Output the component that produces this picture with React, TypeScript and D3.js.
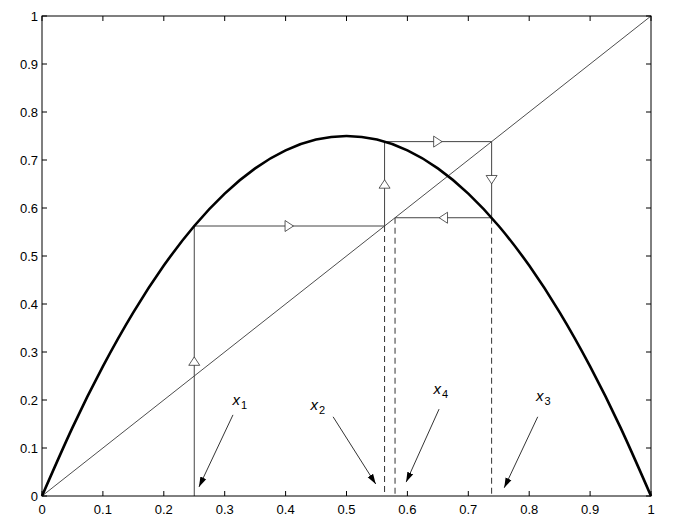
import React from "react";
import * as d3 from "d3";

const W = 681, H = 529;
const M = { left: 42, right: 30, top: 16, bottom: 33 };

const ticks = [0, 0.1, 0.2, 0.3, 0.4, 0.5, 0.6, 0.7, 0.8, 0.9, 1];
const tickLabels = ["0", "0.1", "0.2", "0.3", "0.4", "0.5", "0.6", "0.7", "0.8", "0.9", "1"];

// logistic-map curve
const curveX = [0, 0.05, 0.1, 0.15, 0.2, 0.25, 0.3, 0.35, 0.4, 0.45, 0.5, 0.55, 0.6, 0.65, 0.7, 0.75, 0.8, 0.85, 0.9, 0.95, 1];
const curveY = [0, 0.1425, 0.27, 0.3825, 0.48, 0.5625, 0.63, 0.6825, 0.72, 0.7425, 0.75, 0.7425, 0.72, 0.6825, 0.63, 0.5625, 0.48, 0.3825, 0.27, 0.1425, 0];

// cobweb path
const cobX = [0.25, 0.25, 0.5625, 0.5625, 0.7383, 0.7383, 0.5797];
const cobY = [0, 0.5625, 0.5625, 0.7383, 0.7383, 0.5797, 0.5797];

// direction markers
const markX = [0.25, 0.406, 0.5625, 0.65, 0.7383, 0.659];
const markY = [0.281, 0.5625, 0.65, 0.7383, 0.659, 0.5797];
const markDir = ["up", "right", "up", "right", "down", "left"];

// dashed drops
const dashX = [0.5625, 0.5797, 0.7383];
const dashTop = [0.5625, 0.5797, 0.5797];

// annotations
const labelNames = ["1", "2", "4", "3"];
const labelX = [0.313, 0.441, 0.643, 0.811];
const labelY = [0.19, 0.18, 0.212, 0.197];
const arrowX0 = [0.3136, 0.478, 0.652, 0.814];
const arrowY0 = [0.169, 0.165, 0.181, 0.165];
const arrowX1 = [0.2578, 0.548, 0.598, 0.759];
const arrowY1 = [0.019, 0.025, 0.029, 0.017];

export default function App() {
  const x = d3.scaleLinear().domain([0, 1]).range([M.left, W - M.right]);
  const y = d3.scaleLinear().domain([0, 1]).range([H - M.bottom, M.top]);
  const x0 = x(0), x1 = x(1), y0 = y(0), y1 = y(1);

  const line = d3.line<number>().x((_, i) => x(curveX[i])).y((_, i) => y(curveY[i])).curve(d3.curveNatural);
  const cob = d3.line<number>().x((_, i) => x(cobX[i])).y((_, i) => y(cobY[i]));

  const tri = (cx: number, cy: number, dir: string) => {
    const a = 4.2, b = 5.5;
    let pts: number[][] = [];
    if (dir === "up") pts = [[cx, cy - a], [cx - b, cy + a], [cx + b, cy + a]];
    if (dir === "down") pts = [[cx, cy + a], [cx - b, cy - a], [cx + b, cy - a]];
    if (dir === "right") pts = [[cx + a, cy], [cx - a, cy - b], [cx - a, cy + b]];
    if (dir === "left") pts = [[cx - a, cy], [cx + a, cy - b], [cx + a, cy + b]];
    return pts.map((p) => p.join(",")).join(" ");
  };

  const font = "Liberation Sans, Arial, Helvetica, sans-serif";

  return (
    <svg width={W} height={H} style={{ position: "absolute", left: 0, top: 0, background: "#fff" }} fontFamily={font}>
      <defs>
        <marker id="ah" viewBox="0 0 10 10" refX="10" refY="5" markerWidth="10" markerHeight="10" markerUnits="userSpaceOnUse" orient="auto">
          <path d="M0,1.8 L10,5 L0,8.2 Z" fill="#000" />
        </marker>
      </defs>
      <rect x={0} y={0} width={W} height={H} fill="#fff" />
      {/* diagonal */}
      <line x1={x(0)} y1={y(0)} x2={x(1)} y2={y(1)} stroke="#000" strokeWidth={0.7} />
      {/* dashed drops */}
      {dashX.map((dx, i) => (
        <line key={"d" + i} x1={x(dx)} x2={x(dx)} y1={y(dashTop[i])} y2={y(0)} stroke="#333" strokeWidth={1} strokeDasharray="6,4" />
      ))}
      {/* cobweb */}
      <path d={cob(cobX) || ""} fill="none" stroke="#444" strokeWidth={1} />
      {markX.map((mx, i) => (
        <polygon key={"m" + i} points={tri(x(mx), y(markY[i]), markDir[i])} fill="#fff" stroke="#333" strokeWidth={0.8} />
      ))}
      {/* curve */}
      <path d={line(curveX) || ""} fill="none" stroke="#000" strokeWidth={2.6} />
      {/* frame */}
      <rect x={x0} y={y1} width={x1 - x0} height={y0 - y1} fill="none" stroke="#000" strokeWidth={1} />
      {ticks.map((t, i) => (
        <g key={"t" + i}>
          <line x1={x(t)} x2={x(t)} y1={y0} y2={y0 - 5} stroke="#000" />
          <line x1={x(t)} x2={x(t)} y1={y1} y2={y1 + 5} stroke="#000" />
          <line x1={x0} x2={x0 + 5} y1={y(t)} y2={y(t)} stroke="#000" />
          <line x1={x1} x2={x1 - 5} y1={y(t)} y2={y(t)} stroke="#000" />
          <text x={x(t)} y={y0 + 18} fontSize={13} textAnchor="middle">{tickLabels[i]}</text>
          <text x={x0 - 4} y={y(t) + 5} fontSize={13} textAnchor="end">{tickLabels[i]}</text>
        </g>
      ))}
      {/* annotations */}
      {labelNames.map((n, i) => (
        <g key={"a" + i}>
          <text x={x(labelX[i])} y={y(labelY[i])} fontSize={15} fontStyle="italic">
            x<tspan dx={1} dy={4} fontSize={11} fontStyle="normal">{n}</tspan>
          </text>
          <line x1={x(arrowX0[i])} y1={y(arrowY0[i])} x2={x(arrowX1[i])} y2={y(arrowY1[i])} stroke="#000" strokeWidth={0.8} markerEnd="url(#ah)" />
        </g>
      ))}
    </svg>
  );
}
